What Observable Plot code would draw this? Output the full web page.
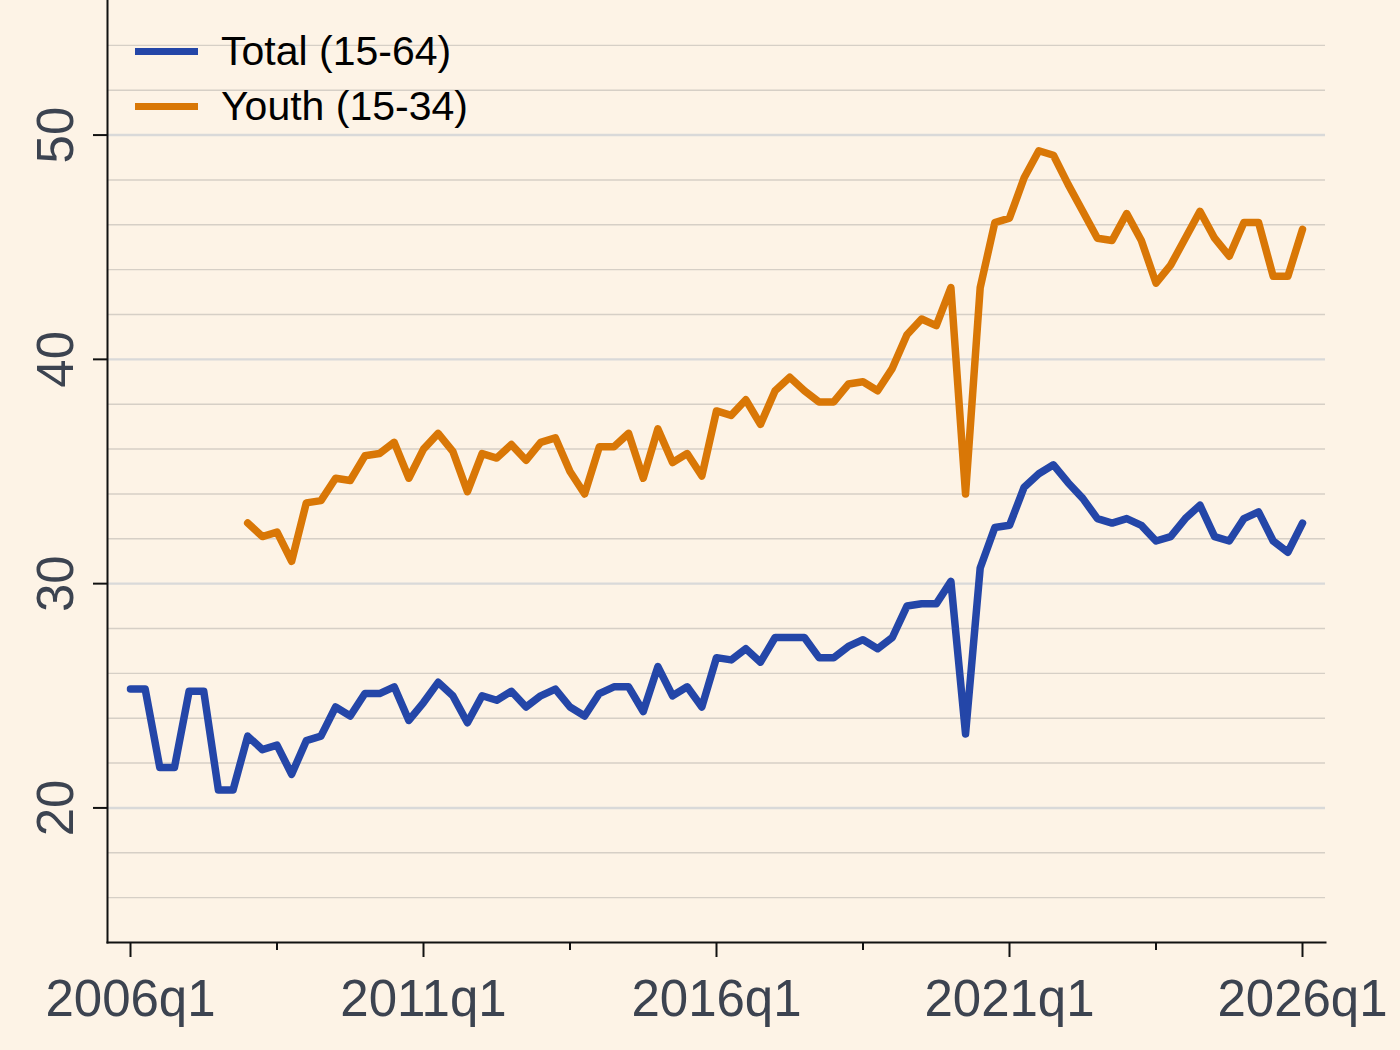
<!DOCTYPE html>
<html>
<head>
<meta charset="utf-8">
<script src="https://cdn.jsdelivr.net/npm/d3@7"></script>
<script src="https://cdn.jsdelivr.net/npm/@observablehq/plot@0.6"></script>
<style>
  html, body { margin: 0; padding: 0; background: #fdf3e6; }
  #wrap { position: relative; width: 1400px; height: 1050px; }
  #legend { position: absolute; left: 135px; top: 24px; font-family: "Liberation Sans", Arial, sans-serif; font-size: 41px; color: #000; }
  .row { display: flex; align-items: center; height: 55px; }
  .sw { width: 63px; height: 7px; margin-right: 23px; }
</style>
</head>
<body>
<div id="wrap">
  <div id="chart"></div>
  <div id="legend"></div>
</div>
<script>
// Quarterly series, first quarter 2006q1
const startYear = 2006;

const totalRate = [
  25.3, 25.3, 21.8, 21.8, 25.2, 25.2, 20.8, 20.8,
  23.2, 22.6, 22.8, 21.5, 23.0, 23.2, 24.5, 24.1,
  25.1, 25.1, 25.4, 23.9, 24.7, 25.6, 25.0, 23.8,
  25.0, 24.8, 25.2, 24.5, 25.0, 25.3, 24.5, 24.1,
  25.1, 25.4, 25.4, 24.3, 26.3, 25.0, 25.4, 24.5,
  26.7, 26.6, 27.1, 26.5, 27.6, 27.6, 27.6, 26.7,
  26.7, 27.2, 27.5, 27.1, 27.6, 29.0, 29.1, 29.1,
  30.1, 23.3, 30.7, 32.5, 32.6, 34.3, 34.9, 35.3,
  34.5, 33.8, 32.9, 32.7, 32.9, 32.6, 31.9, 32.1,
  32.9, 33.5, 32.1, 31.9, 32.9, 33.2, 31.9, 31.4, 32.7
];

// Youth series begins in 2008q1
const youthStartYear = 2008;
const youthRate = [
  32.7, 32.1, 32.3, 31.0, 33.6, 33.7, 34.7, 34.6,
  35.7, 35.8, 36.3, 34.7, 36.0, 36.7, 35.9, 34.1,
  35.8, 35.6, 36.2, 35.5, 36.3, 36.5, 35.0, 34.0,
  36.1, 36.1, 36.7, 34.7, 36.9, 35.4, 35.8, 34.8,
  37.7, 37.5, 38.2, 37.1, 38.6, 39.2, 38.6, 38.1,
  38.1, 38.9, 39.0, 38.6, 39.6, 41.1, 41.8, 41.5,
  43.2, 34.0, 43.2, 46.1, 46.3, 48.1, 49.3, 49.1,
  47.8, 46.6, 45.4, 45.3, 46.5, 45.3, 43.4, 44.2,
  45.4, 46.6, 45.4, 44.6, 46.1, 46.1, 43.7, 43.7, 45.8
];

const seriesNames = ["Total (15-64)", "Youth (15-34)"];
const seriesColors = ["#2446a8", "#d97706"];

const xMajorTicks = [2006, 2011, 2016, 2021, 2026];
const xTickLabels = ["2006q1", "2011q1", "2016q1", "2021q1", "2026q1"];
const xMinorTicks = [2008.5, 2013.5, 2018.5, 2023.5];
const yMajorTicks = [20, 30, 40, 50];
const yMinorTicks = [16, 18, 22, 24, 26, 28, 32, 34, 36, 38, 42, 44, 46, 48, 52, 54];

const toRows = (values, y0, series) =>
  values.map((v, i) => ({ t: y0 + i / 4, value: v, series }));

const rows = [
  ...toRows(totalRate, startYear, seriesNames[0]),
  ...toRows(youthRate, youthStartYear, seriesNames[1])
];

const labelColor = "#3c4350";
const font = "Liberation Sans, Arial, sans-serif";

const chart = Plot.plot({
  width: 1400,
  height: 1050,
  marginLeft: 107,
  marginRight: 75,
  marginTop: 0,
  marginBottom: 108,
  style: { background: "#fdf3e6", fontFamily: font },
  x: { domain: [2006, 2026], insetLeft: 23, insetRight: 23 },
  y: { domain: [14, 56] },
  color: { domain: seriesNames, range: seriesColors },
  marks: [
    Plot.gridY(yMinorTicks, { stroke: "#d6cfc6", strokeOpacity: 1, strokeWidth: 1.4 }),
    Plot.gridY(yMajorTicks, { stroke: "#d9d9d9", strokeOpacity: 1, strokeWidth: 2.4 }),
    Plot.lineY(rows, {
      x: "t", y: "value", z: "series", stroke: "series",
      strokeWidth: 7.5, strokeLinejoin: "round", strokeLinecap: "round"
    }),
    Plot.axisX({
      ticks: xMajorTicks, tickSize: 15, tickPadding: 22, strokeWidth: 2, stroke: "#111",
      tickFormat: (d) => xTickLabels[xMajorTicks.indexOf(d)],
      fontSize: 51, fill: labelColor, label: null
    }),
    Plot.axisX({
      ticks: xMinorTicks, tickSize: 8, strokeWidth: 2, stroke: "#111",
      tickFormat: () => "", label: null
    }),
    Plot.axisY({
      ticks: yMajorTicks, tickSize: 14, strokeWidth: 2, stroke: "#111",
      tickFormat: () => "", label: null
    }),
    Plot.text(yMajorTicks, {
      y: (d) => d, text: (d) => String(d), frameAnchor: "left", dx: -51,
      rotate: -90, textAnchor: "middle", lineAnchor: "middle",
      fontSize: 51, fill: labelColor
    }),
    Plot.frame({ anchor: "left", stroke: "#111", strokeWidth: 2 }),
    Plot.frame({ anchor: "bottom", stroke: "#111", strokeWidth: 2 })
  ]
});

document.getElementById("chart").appendChild(chart);

// Legend drawn inside the top-left corner of the plot area
const legend = d3.select("#legend");
seriesNames.forEach((name, i) => {
  const row = legend.append("div").attr("class", "row");
  row.append("div").attr("class", "sw").style("background", seriesColors[i]);
  row.append("span").text(name);
});
</script>
</body>
</html>
